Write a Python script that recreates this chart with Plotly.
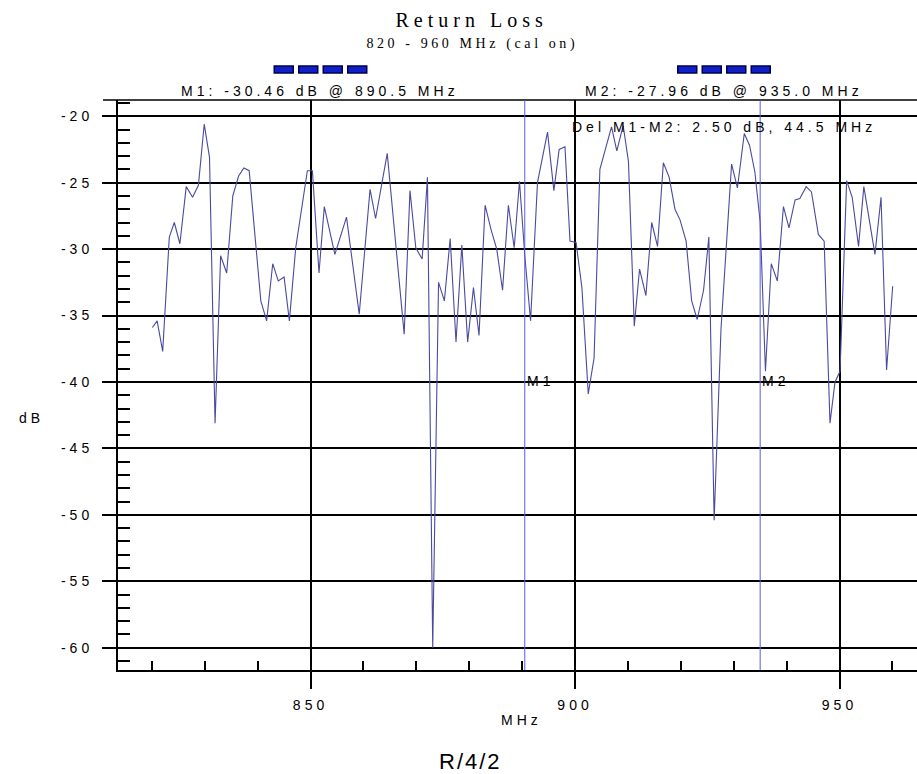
import plotly.graph_objects as go

# ---------------- data ----------------
freq_mhz = [
    820.1, 821.0, 822.05, 823.3, 824.25, 825.3, 826.5, 827.7, 828.8, 829.9,
    830.9, 831.95, 833.0, 834.15, 835.3, 836.4, 837.4, 838.4, 840.6, 841.7,
    842.85, 843.9, 845.0, 846.0, 847.2, 849.4, 850.35, 851.6, 852.6, 854.6,
    856.8, 859.2, 861.25, 862.3, 864.5, 867.7, 868.8, 869.9, 871.1, 872.1,
    873.1, 874.2, 875.3, 876.4, 877.5, 878.6, 879.7, 880.8, 881.85, 883.0,
    884.1, 885.2, 886.3, 887.4, 888.5, 889.5, 890.5, 891.6, 892.9, 894.8,
    896.0, 897.0, 898.1, 899.05, 900.2, 901.3, 902.5, 903.6, 904.7, 905.7,
    906.9, 907.9, 909.1, 910.1, 911.2, 912.2, 913.4, 914.5, 915.6, 916.7,
    917.8, 918.9, 919.85, 921.0, 922.05, 923.1, 924.3, 925.3, 926.3, 927.6,
    929.6, 930.7, 932.0, 933.0, 934.0, 935.0, 936.0, 937.1, 938.25, 939.4,
    940.45, 941.6, 942.5, 943.7, 944.7, 946.0, 947.1, 948.2, 949.15, 950.1,
    951.35, 952.4, 953.6, 954.6, 956.7, 957.85, 958.9, 960.05,
]
return_loss_db = [
    -35.9, -35.4, -37.7, -29.1, -28.0, -29.6, -25.3, -26.1, -25.2, -20.6,
    -23.1, -43.1, -30.5, -31.8, -26.0, -24.5, -23.9, -24.1, -33.9, -35.4,
    -31.1, -32.4, -32.1, -35.4, -29.9, -24.1, -24.1, -31.8, -26.8, -30.4,
    -27.6, -34.9, -25.5, -27.7, -22.8, -36.4, -25.6, -29.9, -30.75, -24.6,
    -60.0, -32.5, -33.9, -29.2, -37.0, -29.7, -37.0, -32.9, -36.5, -26.7,
    -28.5, -30.0, -33.1, -26.7, -29.9, -24.9, -30.46, -35.4, -25.0, -21.2,
    -25.6, -22.5, -22.3, -29.4, -29.5, -32.9, -40.9, -38.2, -24.0, -22.6,
    -20.8, -22.6, -20.7, -23.4, -35.8, -31.5, -33.5, -28.0, -29.8, -23.5,
    -24.6, -27.0, -27.8, -29.4, -33.9, -35.3, -33.1, -29.1, -50.4, -36.0,
    -23.6, -25.4, -21.3, -22.2, -24.2, -27.96, -39.2, -31.1, -32.4, -26.8,
    -28.4, -26.3, -26.2, -25.3, -25.7, -28.9, -29.4, -43.1, -40.0, -39.2,
    -24.85, -26.1, -29.8, -25.3, -30.4, -26.1, -39.1, -32.8,
]

marker_freqs = [890.5, 935.0]
marker_names = ["M1", "M2"]
marker_readouts = ["M1: -30.46 dB @ 890.5 MHz", "M2: -27.96 dB @ 935.0 MHz"]
delta_text = "Del M1-M2: 2.50 dB, 44.5 MHz"

y_tick_vals = [-20, -25, -30, -35, -40, -45, -50, -55, -60]
y_tick_labels = ["-20", "-25", "-30", "-35", "-40", "-45", "-50", "-55", "-60"]
x_tick_vals = [850, 900, 950]
x_tick_labels = ["850", "900", "950"]
x_minor_vals = [820, 830, 840, 860, 870, 880, 890, 910, 920, 930, 940, 960]
y_minor_vals = [-61, -59, -58, -57, -56, -54, -53, -52, -51, -49, -48, -47, -46,
                -44, -43, -42, -41, -39, -38, -37, -36, -34, -33, -32, -31,
                -29, -28, -27, -26, -24, -23, -22, -21, -19]

title_text = "Return Loss"
subtitle_text = "820 - 960 MHz (cal on)"
x_title = "MHz"
y_title = "dB"
footer_text = "R/4/2"

# ---------------- layout geometry (pixels) ----------------
W, H = 917, 774
PL, PR, PT, PB = 118, 917, 99.5, 670


def xp(px):
    return (px - PL) / (PR - PL)


def yp(py):
    return (PB - py) / (PB - PT)


SANS = "Liberation Sans, Arial, sans-serif"
SERIF = "Liberation Serif, Times New Roman, serif"

fig = go.Figure()
fig.add_trace(go.Scatter(
    x=freq_mhz, y=return_loss_db, mode="lines",
    line=dict(color="#4a4a9e", width=1.1), showlegend=False, hoverinfo="skip",
))

shapes = []
# top frame line
shapes.append(dict(type="line", xref="paper", yref="paper", x0=xp(103), x1=1,
                   y0=1, y1=1, line=dict(color="black", width=1.5)))
# marker lines
for f in marker_freqs:
    shapes.append(dict(type="line", xref="x", yref="paper", x0=f, x1=f, y0=0, y1=1,
                       line=dict(color="#5a5ae6", width=1)))
# blue marker squares
for cx in (320.5, 724):
    start = cx - 46.25
    for i in range(4):
        x0 = start + i * 24.5
        shapes.append(dict(type="rect", xref="paper", yref="paper",
                           x0=xp(x0), x1=xp(x0 + 19), y0=yp(72.5), y1=yp(65.5),
                           fillcolor="#1020c8", line=dict(color="#00004a", width=1.5)))

ann = []


def add_text(text, cx, cy, size, family=SANS):
    ann.append(dict(text=text, xref="paper", yref="paper", x=xp(cx), y=yp(cy),
                    xanchor="center", yanchor="middle", showarrow=False,
                    font=dict(family=family, size=size, color="black")))


add_text(title_text, 471, 19, 20, SERIF)          # 0
add_text(subtitle_text, 472, 43, 14, SERIF)       # 1
add_text(footer_text, 470, 762, 22)               # 2
add_text(marker_readouts[0], 320, 90.5, 14)       # 3
add_text(marker_readouts[1], 724, 90.5, 14)       # 4
add_text(delta_text, 724, 127, 14)                # 5
add_text(marker_names[0], 541, 381, 14)           # 6
add_text(marker_names[1], 776, 381, 14)           # 7
add_text(y_title, 31, 418, 14)                    # 8
add_text(x_title, 521, 720, 14)                   # 9

fig.update_layout(
    width=W, height=H, autosize=False,
    margin=dict(l=PL, r=W - PR, t=PT, b=H - PB, pad=0),
    paper_bgcolor="white", plot_bgcolor="white",
    shapes=shapes, annotations=ann, showlegend=False,
)
fig.update_xaxes(
    range=[813.6, 964.65], tickmode="array", tickvals=x_tick_vals, ticktext=x_tick_labels,
    showgrid=True, gridcolor="black", gridwidth=1.6,
    showline=True, linecolor="black", linewidth=2,
    ticks="outside", ticklen=17, tickwidth=1.6, tickcolor="black",
    ticklabelstandoff=4,
    tickfont=dict(family=SANS, size=14, color="black"),
    minor=dict(tickmode="array", tickvals=x_minor_vals, ticks="inside", ticklen=9,
               tickwidth=2, tickcolor="black", showgrid=False),
    zeroline=False, fixedrange=True,
)
fig.update_yaxes(
    range=[-61.68, -18.78], tickmode="array", tickvals=y_tick_vals, ticktext=y_tick_labels,
    showgrid=True, gridcolor="black", gridwidth=1.6,
    showline=True, linecolor="black", linewidth=2,
    ticks="outside", ticklen=14, tickwidth=1.6, tickcolor="black",
    ticklabelstandoff=6,
    tickfont=dict(family=SANS, size=14, color="black"),
    minor=dict(tickmode="array", tickvals=y_minor_vals, ticks="inside", ticklen=12,
               tickwidth=2, tickcolor="black", showgrid=False),
    zeroline=False, fixedrange=True,
)

css = (
    "html,body{margin:0;padding:0;overflow:hidden;}"
    ".xtick text,.ytick text{letter-spacing:4px;}"
    "g.annotation text{letter-spacing:4px;}"
    "g.annotation[data-index='0'] text{letter-spacing:5px;}"
    "g.annotation[data-index='1'] text{letter-spacing:3.6px;}"
    "g.annotation[data-index='2'] text{letter-spacing:2px;}"
)
post = ("var s=document.createElement('style');s.textContent=\"" + css +
        "\";document.head.appendChild(s);")

fig.write_html("out.html", post_script=post, config={"displayModeBar": False, "responsive": False})
